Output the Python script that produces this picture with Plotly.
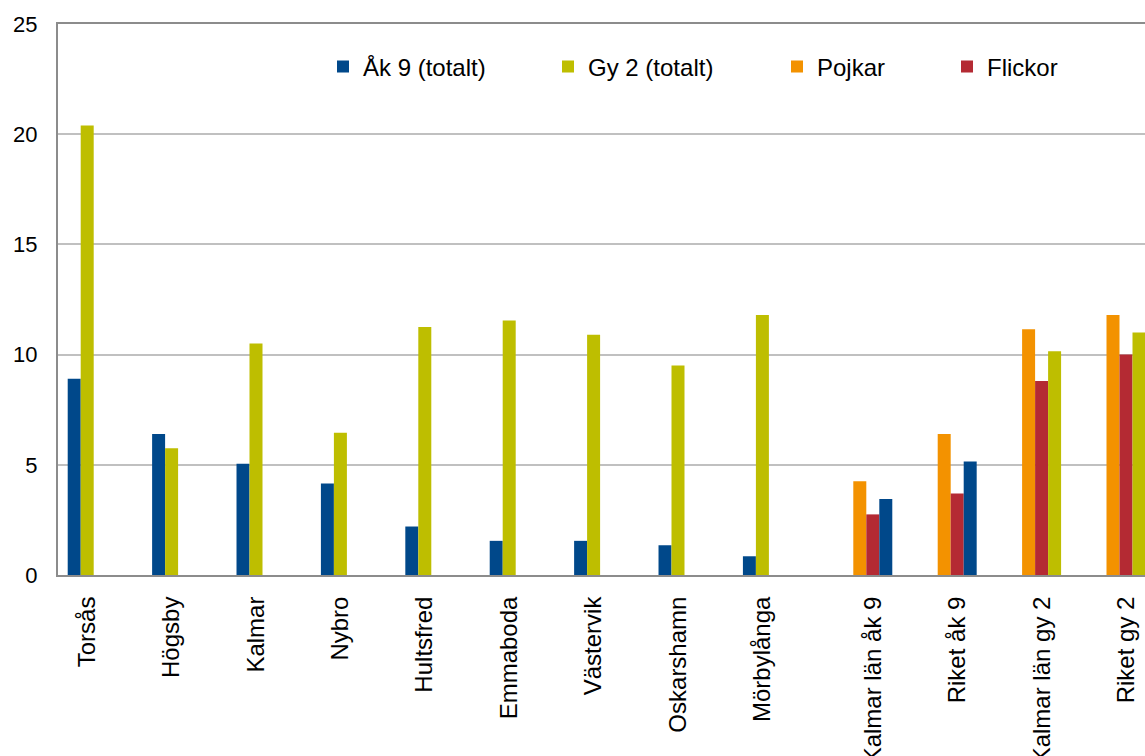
import plotly.graph_objects as go

# Kommuner och jämförelsegrupper
categories = ["Torsås", "Högsby", "Kalmar", "Nybro", "Hultsfred", "Emmaboda",
              "Västervik", "Oskarshamn", "Mörbylånga",
              "Kalmar län åk 9", "Riket åk 9", "Kalmar län gy 2", "Riket gy 2"]
n_kommuner = 9

ak9_totalt = [8.9, 6.4, 5.05, 4.15, 2.2, 1.55, 1.55, 1.35, 0.85, None, None, None, None]
gy2_totalt = [20.4, 5.75, 10.5, 6.45, 11.25, 11.55, 10.9, 9.5, 11.8, None, None, None, None]
pojkar = [None] * 9 + [4.25, 6.4, 11.15, 11.8]
flickor = [None] * 9 + [2.75, 3.7, 8.8, 10.0]
# Totalvärde för län/riket (åk 9 blått, gy 2 grönt)
jamfor_totalt = [None] * 9 + [3.45, 5.15, 10.15, 11.0]

BLUE = "#00488A"
GREEN = "#BEBE00"
ORANGE = "#F39200"
RED = "#B42A33"
jamfor_colors = [BLUE] * 9 + [BLUE, BLUE, GREEN, GREEN]

FONT = "Liberation Sans, Arial, sans-serif"
W, H = 1145, 756
L, T, B = 58, 24, 181

pos = list(range(len(categories)))

fig = go.Figure()
fig.add_trace(go.Bar(x=pos, y=ak9_totalt, name="Åk 9 (totalt)",
                     marker_color=BLUE, marker_line_width=0, legend="legend"))
fig.add_trace(go.Bar(x=pos, y=gy2_totalt, name="Gy 2 (totalt)",
                     marker_color=GREEN, marker_line_width=0, legend="legend2"))
fig.add_trace(go.Bar(x=pos, y=pojkar, name="Pojkar",
                     marker_color=ORANGE, marker_line_width=0, legend="legend3"))
fig.add_trace(go.Bar(x=pos, y=flickor, name="Flickor",
                     marker_color=RED, marker_line_width=0, legend="legend4"))
fig.add_trace(go.Bar(x=pos, y=jamfor_totalt, name="Totalt",
                     marker_color=jamfor_colors, marker_line_width=0,
                     showlegend=False))

# The plot area runs past the right edge of the page, so the last group is clipped
cat_px = 84.4
plot_w = W - L
x_hi = -0.5 + plot_w / cat_px

# Labels sit under the visible bars of each group
label_shift = 0.157
tick_pos = [p - label_shift if p < n_kommuner else p + label_shift for p in pos]


def legend_box(xpx):
    return dict(x=xpx / W, y=1 - 67 / H, xref="container", yref="container",
                xanchor="left", yanchor="middle", orientation="h",
                font=dict(family=FONT, size=24, color="#000000"),
                bgcolor="rgba(0,0,0,0)", borderwidth=0)


fig.update_layout(
    width=W, height=H,
    margin=dict(l=L, r=0, t=T, b=B, autoexpand=False),
    paper_bgcolor="white", plot_bgcolor="white",
    barmode="group", bargap=0.23, bargroupgap=0,
    font=dict(family=FONT, size=22, color="#000000"),
    legend=legend_box(323),
    legend2=legend_box(548),
    legend3=legend_box(777),
    legend4=legend_box(947),
    xaxis=dict(range=[-0.5, x_hi], tickmode="array", tickvals=tick_pos,
               ticktext=categories, tickangle=-90,
               showline=True, linecolor="#8C8C8C", linewidth=2, mirror=True,
               showgrid=False, zeroline=False, ticks="", ticklabelstandoff=10,
               tickfont=dict(family=FONT, size=24, color="#000000")),
    yaxis=dict(range=[0, 25], tickvals=[0, 5, 10, 15, 20, 25],
               showline=True, linecolor="#8C8C8C", linewidth=2,
               showgrid=True, gridcolor="#C0C0C0", gridwidth=1.5,
               zeroline=False, ticks="", ticklabelstandoff=14,
               tickfont=dict(family=FONT, size=22, color="#000000")),
)

fig.write_html("out.html")
